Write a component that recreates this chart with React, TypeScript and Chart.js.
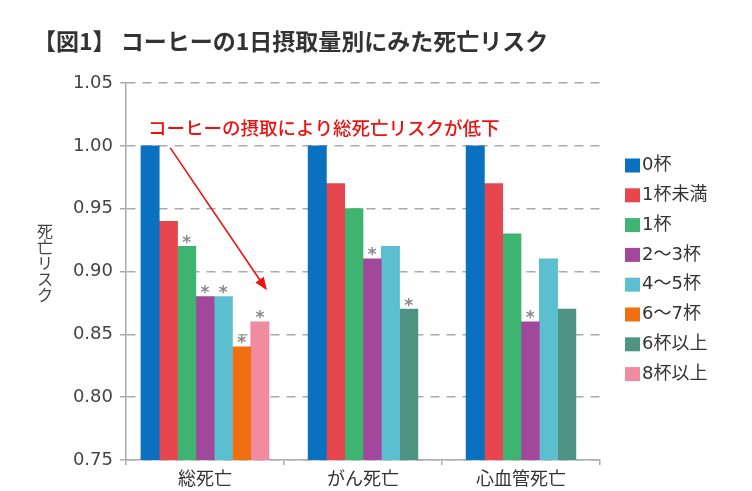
import React, { useEffect, useRef } from 'react';
import { Chart, registerables } from 'chart.js';
Chart.register(...registerables);

const categories = ['総死亡', 'がん死亡', '心血管死亡'];
const seriesLabels = ['0杯', '1杯未満', '1杯', '2～3杯', '4～5杯', '6～7杯', '6杯以上', '8杯以上'];
const seriesColors = ['#0a70c0', '#e8464f', '#3db46f', '#a1479c', '#5cbfd0', '#f07010', '#4f9483', '#f08ba2'];

const cups0 = [1.0, 1.0, 1.0];
const cupsLess1 = [0.94, 0.97, 0.97];
const cups1 = [0.92, 0.95, 0.93];
const cups2to3 = [0.88, 0.91, 0.86];
const cups4to5 = [0.88, 0.92, 0.91];
const cups6to7 = [0.84, null, null];
const cups6plus = [null, 0.87, 0.87];
const cups8plus = [0.86, null, null];
const seriesValues = [cups0, cupsLess1, cups1, cups2to3, cups4to5, cups6to7, cups6plus, cups8plus];

// significance markers (*)
const sig0 = [false, false, false];
const sigLess1 = [false, false, false];
const sig1 = [true, false, false];
const sig2to3 = [true, true, true];
const sig4to5 = [true, false, false];
const sig6to7 = [true, false, false];
const sig6plus = [false, true, false];
const sig8plus = [true, false, false];
const seriesSig = [sig0, sigLess1, sig1, sig2to3, sig4to5, sig6to7, sig6plus, sig8plus];

const yMin = 0.75;
const yMax = 1.05;
const yStep = 0.05;

const titleText = '【図1】 コーヒーの1日摂取量別にみた死亡リスク';
const yTitle = '死亡リスク';
const noteText = 'コーヒーの摂取により総死亡リスクが低下';
const arrowFromValue = 1.0;
const arrowToValue = 0.885;

const FONT = '"Noto Sans CJK JP", "Noto Sans", sans-serif';
const NUMFONT = '"DejaVu Sans", "Noto Sans CJK JP", sans-serif';

const decorPlugin = {
  id: 'decor',
  afterDatasetsDraw(chart: any) {
    const ctx = chart.ctx;
    const yScale = chart.scales.y;
    ctx.save();
    // asterisks
    ctx.fillStyle = '#8a8a8a';
    ctx.font = `bold 17px "DejaVu Sans", sans-serif`;
    ctx.textAlign = 'center';
    ctx.textBaseline = 'alphabetic';
    chart.data.datasets.forEach((ds: any, di: number) => {
      const meta = chart.getDatasetMeta(di);
      meta.data.forEach((bar: any, i: number) => {
        if (ds.data[i] == null || !seriesSig[di][i]) return;
        const m = ctx.measureText('*');
        const centerY = bar.y - 7;
        const baseY = centerY + (m.actualBoundingBoxAscent - m.actualBoundingBoxDescent) / 2;
        ctx.fillText('*', bar.x, baseY);
      });
    });

    // title
    ctx.fillStyle = '#333';
    ctx.font = `bold 23px ${FONT}`;
    ctx.textAlign = 'left';
    ctx.textBaseline = 'middle';
    ctx.fillText(titleText, 33, 41);

    // y title, vertical
    ctx.font = `16px ${FONT}`;
    ctx.fillStyle = '#444';
    ctx.textAlign = 'center';
    const chars = Array.from(yTitle);
    chars.forEach((c, i) => {
      ctx.fillText(c, 45, 231 + i * 16);
    });

    // note
    ctx.fillStyle = '#ee1111';
    ctx.font = `500 18.5px ${FONT}`;
    ctx.textAlign = 'left';
    ctx.fillText(noteText, 148, 128);

    // arrow
    const m0 = chart.getDatasetMeta(0).data[0];
    const m7 = chart.getDatasetMeta(7).data[0];
    const x1 = m0.x + m0.width / 2 + 11;
    const y1 = yScale.getPixelForValue(arrowFromValue) + 2;
    const x2 = m7.x + 7;
    const y2 = yScale.getPixelForValue(arrowToValue);
    const ang = Math.atan2(y2 - y1, x2 - x1);
    const hl = 13, hw = 5;
    ctx.strokeStyle = '#ee1111';
    ctx.lineWidth = 1.6;
    ctx.beginPath();
    ctx.moveTo(x1, y1);
    ctx.lineTo(x2 - Math.cos(ang) * hl * 0.8, y2 - Math.sin(ang) * hl * 0.8);
    ctx.stroke();
    ctx.fillStyle = '#ee1111';
    ctx.beginPath();
    ctx.moveTo(x2, y2);
    ctx.lineTo(x2 - Math.cos(ang) * hl - Math.sin(ang) * hw, y2 - Math.sin(ang) * hl + Math.cos(ang) * hw);
    ctx.lineTo(x2 - Math.cos(ang) * hl + Math.sin(ang) * hw, y2 - Math.sin(ang) * hl - Math.cos(ang) * hw);
    ctx.closePath();
    ctx.fill();

    // legend
    ctx.font = `18px ${NUMFONT}`;
    ctx.textAlign = 'left';
    ctx.textBaseline = 'middle';
    chart.data.datasets.forEach((ds: any, di: number) => {
      const cy = 165.5 + di * 29.8;
      ctx.fillStyle = ds.backgroundColor;
      ctx.fillRect(625, cy - 7, 15, 14);
      ctx.fillStyle = '#333';
      ctx.fillText(ds.label, 642, cy);
    });
    ctx.restore();
  },
};

export default function App() {
  const ref = useRef<HTMLCanvasElement>(null);
  useEffect(() => {
    if (!ref.current) return;
    const yTicks: number[] = [];
    for (let v = yMin; v <= yMax + 1e-9; v += yStep) yTicks.push(Math.round(v * 100) / 100);
    const chart = new Chart(ref.current, {
      type: 'bar',
      data: {
        labels: categories,
        datasets: seriesLabels.map((label, i) => ({
          label,
          data: seriesValues[i],
          backgroundColor: seriesColors[i],
          borderWidth: 0,
          barThickness: 18.3,
          skipNull: true,
        })),
      },
      options: {
        responsive: false,
        animation: false,
        layout: { padding: { top: 83, right: 152, left: 0, bottom: 0 } },
        plugins: {
          legend: { display: false },
          tooltip: { enabled: false },
          title: { display: false },
        },
        scales: {
          x: {
            offset: true,
            grid: { display: true, drawOnChartArea: false, drawTicks: true, tickLength: 5, color: '#aaa', lineWidth: 1.5 },
            border: { display: true, color: '#aaa', width: 1.5 },
            ticks: { color: '#333', font: { family: FONT, size: 18 }, padding: 2 },
            afterFit: (s: any) => { s.height = 31; },
          },
          y: {
            min: yMin,
            max: yMax,
            afterBuildTicks: (s: any) => { s.ticks = yTicks.map((v) => ({ value: v })); },
            ticks: {
              color: '#444',
              font: { family: NUMFONT, size: 18 },
              padding: 7,
              callback: (v: any) => Number(v).toFixed(2),
            },
            grid: {
              color: '#aaa',
              lineWidth: 1.5,
              drawTicks: true,
              tickLength: 6,
              tickColor: '#aaa',
              tickBorderDash: [],
            },
            border: { display: true, color: '#aaa', width: 1.5, dash: [9, 7] },
            afterFit: (s: any) => { s.width = 126; },
          },
        },
      },
      plugins: [decorPlugin],
    } as any);
    return () => chart.destroy();
  }, []);
  return (
    <div style={{ position: 'absolute', left: 0, top: 0, width: 752, height: 491, background: '#fff' }}>
      <canvas ref={ref} width={752} height={491} style={{ display: 'block' }} />
    </div>
  );
}
